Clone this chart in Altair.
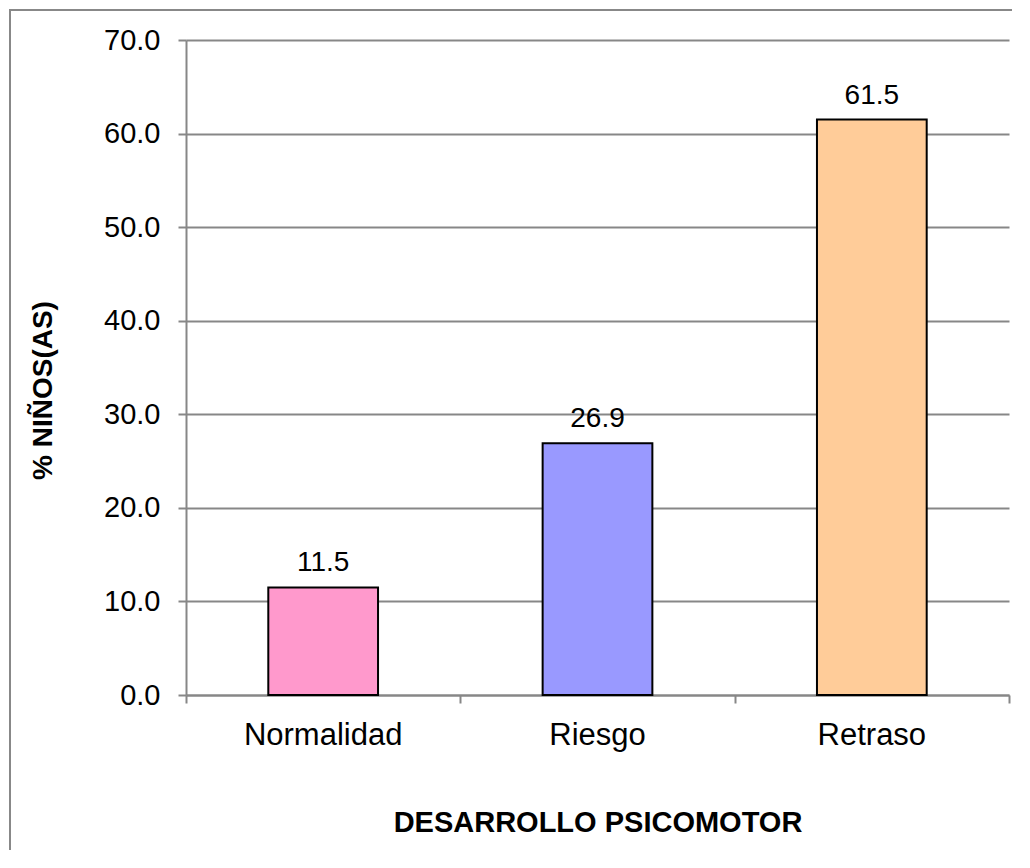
import altair as alt
import pandas as pd

categories = ["Normalidad", "Riesgo", "Retraso"]
values = [11.5, 26.9, 61.5]
bar_colors = ["#FF99CC", "#9999FF", "#FFCC99"]
y_ticks = [0, 10, 20, 30, 40, 50, 60, 70]
x_bounds = [0, 1, 2, 3]

df = pd.DataFrame({"cat": categories, "val": values})
bdf = pd.DataFrame({"b": x_bounds})

W, H = 823, 655
GRAY = "#878787"
FONT = "Liberation Sans"

xband = alt.X(
    "cat:N", sort=categories,
    scale=alt.Scale(paddingInner=0.6, paddingOuter=0.3),
    axis=alt.Axis(orient="bottom", ticks=False, tickSize=0, domain=True,
                  domainColor=GRAY, domainWidth=2, grid=False,
                  labelAngle=0, labelFontSize=31, labelColor="black", labelFont=FONT,
                  labelPadding=25,
                  title="DESARROLLO PSICOMOTOR", titleFont=FONT, titleFontSize=29,
                  titleFontWeight="bold", titleColor="black",
                  titleBaseline="alphabetic", titleY=136),
)
yq = alt.Y(
    "val:Q",
    scale=alt.Scale(domain=[0, 70], nice=False),
    axis=alt.Axis(values=y_ticks, format=".1f", grid=True, gridColor=GRAY, gridWidth=2,
                  domainColor=GRAY, domainWidth=2, tickColor=GRAY, tickWidth=2, tickSize=8,
                  labelFontSize=29, labelFont=FONT, labelColor="black", labelPadding=18,
                  title="% NIÑOS(AS)", titleFont=FONT, titleFontSize=28, titleFontWeight="bold",
                  titleColor="black", titleAngle=270, titleBaseline="alphabetic",
                  titleAlign="center", titleX=-135, titleY=350),
)

bars = alt.Chart(df).mark_bar(stroke="black", strokeWidth=2).encode(
    x=xband, y=yq,
    color=alt.Color("cat:N", scale=alt.Scale(domain=categories, range=bar_colors), legend=None),
)
labels = alt.Chart(df).mark_text(dy=-16, baseline="alphabetic", fontSize=28, font=FONT, color="black").encode(
    x=alt.X("cat:N", sort=categories), y="val:Q", text=alt.Text("val:Q", format=".1f")
)
inner = alt.layer(bars, labels)

ticks = alt.Chart(bdf).mark_point(opacity=0).encode(
    x=alt.X("b:Q", scale=alt.Scale(domain=[0, 3], nice=False),
            axis=alt.Axis(orient="bottom", values=x_bounds, labels=False, domain=False, grid=False,
                          ticks=True, tickSize=8, tickColor=GRAY, tickWidth=2, title=None))
)

border_top = alt.Chart(bdf.head(1)).mark_rule(color="#888888", strokeWidth=2).encode(
    x=alt.value(-177), x2=alt.value(826), y=alt.value(-30)
)
border_left = alt.Chart(bdf.head(1)).mark_rule(color="#888888", strokeWidth=2).encode(
    x=alt.value(-176), y=alt.value(-31), y2=alt.value(810)
)

chart = alt.layer(inner, ticks, border_top, border_left).resolve_scale(x="independent").properties(
    width=W, height=H, padding=0, background="white"
).configure_view(stroke=None)

chart.save("out.html", embed_options={"renderer": "svg", "actions": False})
